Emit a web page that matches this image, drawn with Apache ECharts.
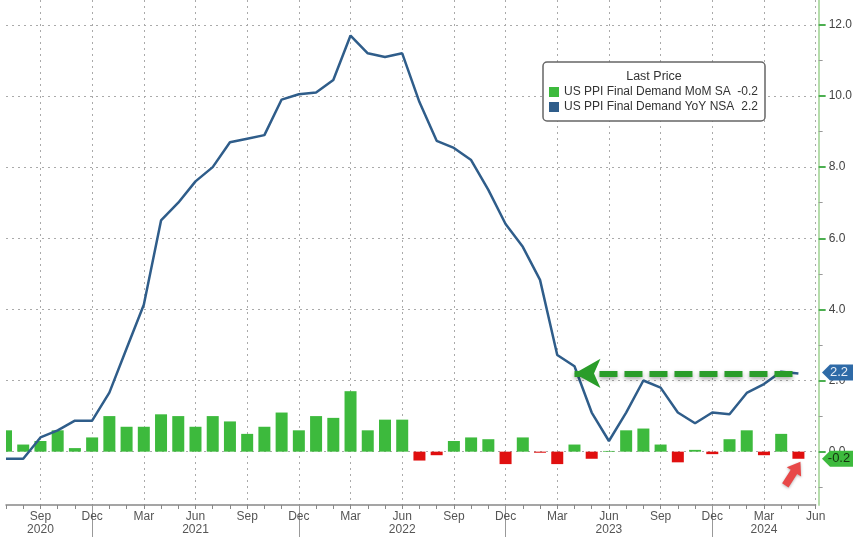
<!DOCTYPE html>
<html>
<head>
<meta charset="utf-8">
<script src="https://cdn.jsdelivr.net/npm/echarts@6/dist/echarts.min.js"></script>
<style>html,body{margin:0;padding:0;background:#fff;}#c{width:855px;height:555px;}</style>
</head>
<body>
<div id="c"></div>
<script>
// ---- data ----
const categories = [
  '2020-07','2020-08','2020-09','2020-10','2020-11','2020-12',
  '2021-01','2021-02','2021-03','2021-04','2021-05','2021-06','2021-07','2021-08','2021-09','2021-10','2021-11','2021-12',
  '2022-01','2022-02','2022-03','2022-04','2022-05','2022-06','2022-07','2022-08','2022-09','2022-10','2022-11','2022-12',
  '2023-01','2023-02','2023-03','2023-04','2023-05','2023-06','2023-07','2023-08','2023-09','2023-10','2023-11','2023-12',
  '2024-01','2024-02','2024-03','2024-04','2024-05','2024-06'
];
const momValues = [
  0.6, 0.2, 0.3, 0.6, 0.1, 0.4,
  1.0, 0.7, 0.7, 1.05, 1.0, 0.7, 1.0, 0.85, 0.5, 0.7, 1.1, 0.6,
  1.0, 0.95, 1.7, 0.6, 0.9, 0.9, -0.25, -0.1, 0.3, 0.4, 0.35, -0.35,
  0.4, -0.03, -0.35, 0.2, -0.2, 0.02, 0.6, 0.65, 0.2, -0.3, 0.05, -0.07,
  0.35, 0.6, -0.1, 0.5, -0.2
];
const yoyValues = [
  -0.2, -0.2, 0.4, 0.6, 0.87, 0.87,
  1.66, 2.9, 4.13, 6.5, 7.0, 7.6, 8.0, 8.7, 8.8, 8.9, 9.9, 10.05,
  10.1, 10.45, 11.7, 11.2, 11.1, 11.2, 9.83, 8.74, 8.54, 8.2, 7.36, 6.4,
  5.76, 4.83, 2.72, 2.4, 1.1, 0.3, 1.1, 2.0, 1.8, 1.1, 0.8, 1.1,
  1.05, 1.65, 1.9, 2.25, 2.2
];
const yTickValues = [0, 2, 4, 6, 8, 10, 12];
const yMinorTickValues = [-1, 1, 3, 5, 7, 9, 11];
const monthNames = ['Jan','Feb','Mar','Apr','May','Jun','Jul','Aug','Sep','Oct','Nov','Dec'];
const labelMonths = ['03','06','09','12'];
const yearLabels = {'2020-09':'2020','2021-06':'2021','2022-06':'2022','2023-06':'2023','2024-03':'2024'};
const momName = 'US PPI Final Demand MoM SA';
const yoyName = 'US PPI Final Demand YoY NSA';
const lastMom = momValues[momValues.length - 1];
const lastYoy = yoyValues[yoyValues.length - 1];
const lastCat = categories[momValues.length - 1];
const arrowStartCat = '2023-04';
const legendValues = {};
legendValues[momName] = lastMom.toFixed(1);
legendValues[yoyName] = lastYoy.toFixed(1);

const GREEN = '#3dba3d', RED = '#e00f0f', BLUE = '#2f5d8a';
const FONT = 'Liberation Sans, Arial, sans-serif';

const chart = echarts.init(document.getElementById('c'));
const isQuarter = (v) => labelMonths.indexOf(v.slice(5)) >= 0;

const option = {
  animation: false,
  backgroundColor: '#fff',
  textStyle: { fontFamily: FONT },
  grid: { left: 6, right: 36.3, top: 0, bottom: 50, containLabel: false },
  legend: {
    left: 543, top: 62, orient: 'vertical',
    itemWidth: 10, itemHeight: 10, itemGap: 3,
    padding: [24, 7, 8, 6],
    borderColor: '#666', borderWidth: 1.5, borderRadius: 4,
    backgroundColor: '#fff',
    selectedMode: false,
    data: [{ name: momName, icon: 'rect' }, { name: yoyName, icon: 'rect' }],
    formatter: (name) => '{n|' + name + '}{v|' + legendValues[name] + '}',
    textStyle: {
      fontSize: 12, color: '#333', fontFamily: FONT,
      rich: { n: { width: 171, fontSize: 12, color: '#333', fontFamily: FONT },
              v: { width: 23, align: 'right', fontSize: 12, color: '#333', fontFamily: FONT } }
    }
  },
  xAxis: [{
    type: 'category', data: categories, boundaryGap: false, position: 'bottom',
    axisLine: { show: true, onZero: false, lineStyle: { color: '#888', width: 1.5 } },
    axisTick: { show: true, interval: 0, length: 4, lineStyle: { color: '#888' } },
    axisLabel: {
      interval: (i, v) => isQuarter(v), margin: 5, color: '#555', fontSize: 12, fontFamily: FONT,
      formatter: (v) => {
        const m = monthNames[parseInt(v.slice(5), 10) - 1];
        return yearLabels[v] ? '{m|' + m + '}\n{y|' + yearLabels[v] + '}' : '{m|' + m + '}';
      },
      rich: { m: { fontSize: 12, lineHeight: 13, color: '#555', fontFamily: FONT },
              y: { fontSize: 12, lineHeight: 13, color: '#555', fontFamily: FONT } }
    },
    splitLine: { show: true, interval: (i, v) => isQuarter(v), lineStyle: { color: '#aaa', type: [2, 4], width: 1 } }
  }, {
    type: 'category', data: categories, boundaryGap: false, position: 'bottom',
    axisLine: { show: false, onZero: false },
    axisTick: { show: true, interval: (i, v) => v.slice(5) === '12', length: 32, lineStyle: { color: '#999', width: 1 } },
    axisLabel: { show: false }, splitLine: { show: false }
  }],
  yAxis: [{
    type: 'value', position: 'right', offset: 3, min: -1.5, max: 12.7,
    axisLine: { show: true, lineStyle: { color: '#b5dcab', width: 2 } },
    axisTick: { show: true, customValues: yTickValues, length: 7, lineStyle: { color: '#4caf50', width: 2 } },
    axisLabel: { show: true, customValues: yTickValues, formatter: (v) => v.toFixed(1), margin: 10,
                 color: '#444', fontSize: 12, fontFamily: FONT },
    splitLine: { show: true, lineStyle: { color: '#aaa', type: [2, 4], width: 1 } }
  }, {
    type: 'value', position: 'right', offset: 3, min: -1.5, max: 12.7,
    axisLine: { show: false },
    axisTick: { show: true, customValues: yMinorTickValues, length: 4, lineStyle: { color: '#999', width: 1 } },
    axisLabel: { show: false }, splitLine: { show: false }
  }],
  series: [{
    name: momName, type: 'bar', xAxisIndex: 0, yAxisIndex: 0, barWidth: 12, color: GREEN, z: 2, clip: true,
    data: momValues.map(v => v < 0 ? { value: v, itemStyle: { color: RED } } : v)
  }, {
    name: yoyName, type: 'line', xAxisIndex: 0, yAxisIndex: 0, color: BLUE, z: 3,
    symbol: 'none', showSymbol: false,
    lineStyle: { color: BLUE, width: 2.5 },
    data: yoyValues,
    markLine: {
      silent: true, symbol: ['arrow', 'none'], symbolSize: [22, 26],
      label: { show: false },
      lineStyle: { color: '#2a9d2a', width: 6, type: [18, 7],
                   shadowBlur: 4, shadowColor: 'rgba(0,0,0,0.35)', shadowOffsetY: 2 },
      data: [[{ coord: [categories.indexOf(arrowStartCat) + 0.25, lastYoy] }, { coord: [lastCat, lastYoy] }]]
    }
  }]
};
chart.setOption(option);

// annotations positioned through the chart's scales
const axisX = 822;
const yYoy = chart.convertToPixel({ yAxisIndex: 0 }, lastYoy);
const yMom = chart.convertToPixel({ yAxisIndex: 0 }, lastMom);
const xLast = chart.convertToPixel({ xAxisIndex: 0 }, lastCat);
const xFirst = chart.convertToPixel({ xAxisIndex: 0 }, categories[0]);
const yBottom = chart.convertToPixel({ yAxisIndex: 0 }, -1.5);
function tag(y, fill, text, textColor) {
  return {
    type: 'group', z: 100,
    children: [{
      type: 'polygon', z: 100,
      shape: { points: [[axisX, y], [axisX + 8, y - 8], [853, y - 8], [853, y + 8], [axisX + 8, y + 8]] },
      style: { fill: fill }
    }, {
      type: 'text', z: 101, x: 839, y: y,
      style: { text: text, fill: textColor, font: '13px ' + FONT, align: 'center', verticalAlign: 'middle' }
    }]
  };
}
chart.setOption({
  graphic: [
    // plot-area edge: hide the part of the first bar outside the grid
    { type: 'rect', z: 50, shape: { x: 0, y: 0, width: xFirst, height: yBottom - 1 }, style: { fill: '#fff' } },
    { type: 'text', z: 100, x: 654, y: 77,
      style: { text: 'Last Price', fill: '#333', font: '12.5px ' + FONT, align: 'center', verticalAlign: 'middle' } },
    tag(yYoy - 1, '#2e6aa7', lastYoy.toFixed(1), '#e8eef7'),
    tag(yMom, '#3dba3d', lastMom.toFixed(1), '#14330f'),
    { type: 'polygon', z: 100, x: xLast + 2, y: yMom + 3, rotation: -0.57,
      shape: { points: [[0, 0], [8.5, 12], [3.8, 12], [3.8, 28], [-3.8, 28], [-3.8, 12], [-8.5, 12]] },
      style: { fill: '#e84848', shadowBlur: 3, shadowColor: 'rgba(0,0,0,0.3)', shadowOffsetY: 1 } }
  ]
});
</script>
</body>
</html>
